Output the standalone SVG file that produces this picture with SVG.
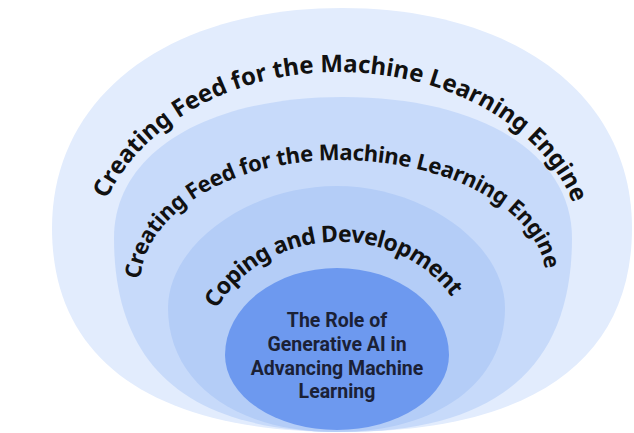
<svg xmlns="http://www.w3.org/2000/svg" width="634" height="433" viewBox="0 0 634 433">
<defs>
<style>
.arc{font-family:"Noto Sans","DejaVu Sans",sans-serif;font-weight:700;fill:#111111;}
.core-text{font-family:Roboto,"Noto Sans",sans-serif;font-weight:700;fill:#1b2136;font-size:19.5px;text-anchor:middle;}
.r1{fill:#e2ecfd;}
.r2{fill:#c7dafa;}
.r3{fill:#b4cdf7;}
.r4{fill:#6d99ef;}
</style>
<path id="p1" d="M91,268 A247,196 0 0 1 338,72 A245,183 0 0 1 583,255"/>
<path id="p2" d="M140,285 A198,125 0 0 1 338,160 A208,120 0 0 1 546,280"/>
<path id="p3" d="M196,362 A135,120 0 0 1 466,362"/>
</defs>
<rect width="634" height="433" fill="#ffffff"/>
<g id="ring-outer">
<path class="r1" d="M52,228 C52,96 168,8 342,8 C516,8 632,96 632,228 C632,361 530.5,432 342,432 C153.5,432 52,361 52,228 Z"/>
</g>
<g id="ring-second">
<path class="r2" d="M114,238 C114,153.4 205.6,97 343,97 C480.4,97 572,153.4 572,238 C572,368 496.4,432 343,432 C189.6,432 114,368 114,238 Z"/>
</g>
<g id="ring-third">
<path class="r3" d="M168,308 C168,244.6 248.9,186 336.5,186 C424.1,186 505,244.6 505,308 C505,382.4 437.6,432 336.5,432 C235.4,432 168,382.4 168,308 Z"/>
</g>
<g id="core">
<path class="r4" d="M225,355 A112,87 0 0 1 449,355 A112,75 0 0 1 225,355 Z"/>
<text class="core-text" x="337" y="327">The Role of</text>
<text class="core-text" x="337" y="351">Generative AI in</text>
<text class="core-text" x="337" y="375">Advancing Machine</text>
<text class="core-text" x="337" y="398">Learning</text>
</g>
<g id="labels">
<text class="arc" font-size="24"><textPath href="#p1" startOffset="352.5" text-anchor="middle">Creating Feed for the Machine Learning Engine</textPath></text>
<text class="arc" font-size="22" letter-spacing="-0.3"><textPath href="#p2" startOffset="256.9" text-anchor="middle">Creating Feed for the Machine Learning Engine</textPath></text>
<text class="arc" font-size="23" letter-spacing="-0.6" transform="rotate(-3 331 245)"><textPath href="#p3" startOffset="50%" text-anchor="middle">Coping and Development</textPath></text>
</g>
<g id="connectors"/>
</svg>
